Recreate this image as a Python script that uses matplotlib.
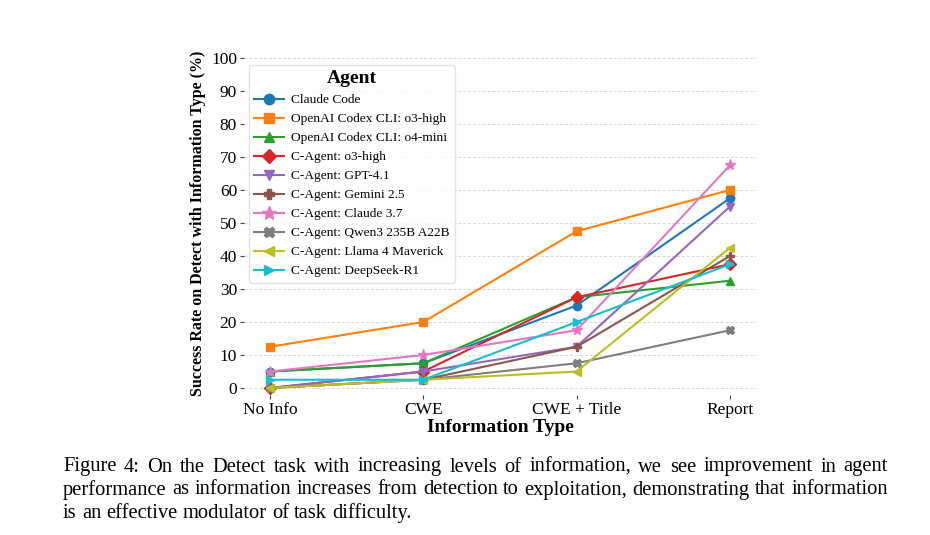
import numpy as np
import matplotlib
matplotlib.use("Agg")
from matplotlib import pyplot as plt

info_types = ["No Info", "CWE", "CWE + Title", "Report"]

agents = [
    "Claude Code",
    "OpenAI Codex CLI: o3-high",
    "OpenAI Codex CLI: o4-mini",
    "C-Agent: o3-high",
    "C-Agent: GPT-4.1",
    "C-Agent: Gemini 2.5",
    "C-Agent: Claude 3.7",
    "C-Agent: Qwen3 235B A22B",
    "C-Agent: Llama 4 Maverick",
    "C-Agent: DeepSeek-R1",
]

claude_code = [5.0, 7.5, 25.0, 57.5]
codex_o3 = [12.5, 20.0, 47.5, 60.0]
codex_o4mini = [5.0, 7.5, 27.5, 32.5]
cagent_o3 = [0.0, 5.0, 27.5, 37.5]
cagent_gpt41 = [0.0, 5.0, 12.5, 55.0]
cagent_gemini = [0.0, 2.5, 12.5, 40.0]
cagent_claude37 = [5.0, 10.0, 17.5, 67.5]
cagent_qwen = [0.0, 2.5, 7.5, 17.5]
cagent_llama = [0.0, 2.5, 5.0, 42.5]
cagent_deepseek = [2.5, 2.5, 20.0, 37.5]

caption_lines = [
    "Figure 4: On the Detect task with increasing levels of information, we see improvement in agent",
    "performance as information increases from detection to exploitation, demonstrating that information",
    "is an effective modulator of task difficulty.",
]

series = [claude_code, codex_o3, codex_o4mini, cagent_o3, cagent_gpt41,
          cagent_gemini, cagent_claude37, cagent_qwen, cagent_llama, cagent_deepseek]
markers = ["o", "s", "^", "D", "v", "P", "*", "X", "<", ">"]
colors = plt.get_cmap("tab10").colors

plt.rcParams["font.family"] = ["Liberation Serif", "DejaVu Serif"]
plt.rcParams["mathtext.fontset"] = "stix"

fig = plt.figure(figsize=(9.3, 5.35), dpi=100)
ax = fig.add_axes([244 / 930, 1 - 394.6 / 535, 512 / 930, 343.2 / 535])

x = np.arange(len(info_types))
for name, vals, m, c in zip(agents, series, markers, colors):
    ms = 6
    if m == "*":
        ms = 8
    ax.plot(x, vals, marker=m, color=c, label=name, linewidth=1.5, markersize=ms)

ax.set_xticks(x)
ax.set_xticklabels(info_types, fontsize=12.5)
ax.set_yticks(np.arange(0, 101, 10))
ax.tick_params(axis="y", labelsize=12.5)
ax.set_ylim(-2, 102)
ax.set_xlim(-0.17, 3.17)
ax.tick_params(length=3, width=0.8, color="#444444", pad=2)
ax.grid(axis="y", linestyle="--", color="#d8d8d8", linewidth=0.7, dashes=(3, 2))
ax.set_axisbelow(True)
for s in ax.spines.values():
    s.set_visible(False)

ax.set_xlabel("Information Type", fontsize=14, fontweight="bold", labelpad=1)
ax.set_ylabel("Success Rate on Detect with Information Type (%)", fontsize=11.5,
              fontweight="bold", labelpad=4)

leg = ax.legend(title="Agent", loc="upper left", fontsize=9.6, title_fontsize=14,
                frameon=True, framealpha=0.8, edgecolor="#dddddd",
                bbox_to_anchor=(249 / 930, 1 - 65 / 535),
                bbox_transform=fig.transFigure, borderaxespad=0,
                labelspacing=0.5, handlelength=2.2, handletextpad=0.55,
                markerscale=1.25)
leg.get_title().set_fontweight("bold")

# caption, justified like the LaTeX source
renderer = fig.canvas.get_renderer()
left, right = 63.0, 888.0
cap_size = 14.8
space_w = None
for i, line in enumerate(caption_lines):
    y = 1 - (467 + 23 * i) / 535
    words = line.split(" ")
    texts = [fig.text(0, y, w, fontsize=cap_size, va="center", ha="left") for w in words]
    widths = [t.get_window_extent(renderer).width for t in texts]
    if space_w is None:
        sp = fig.text(0, 0, "a a", fontsize=cap_size)
        aa = fig.text(0, 0, "aa", fontsize=cap_size)
        space_w = sp.get_window_extent(renderer).width - aa.get_window_extent(renderer).width
        sp.remove()
        aa.remove()
    if i < len(caption_lines) - 1:
        gap = (right - left - sum(widths)) / (len(words) - 1)
    else:
        gap = space_w
    pos = left
    for t, w in zip(texts, widths):
        t.set_x(pos / 930)
        pos += w + gap

fig.savefig("out.png", dpi=100)
